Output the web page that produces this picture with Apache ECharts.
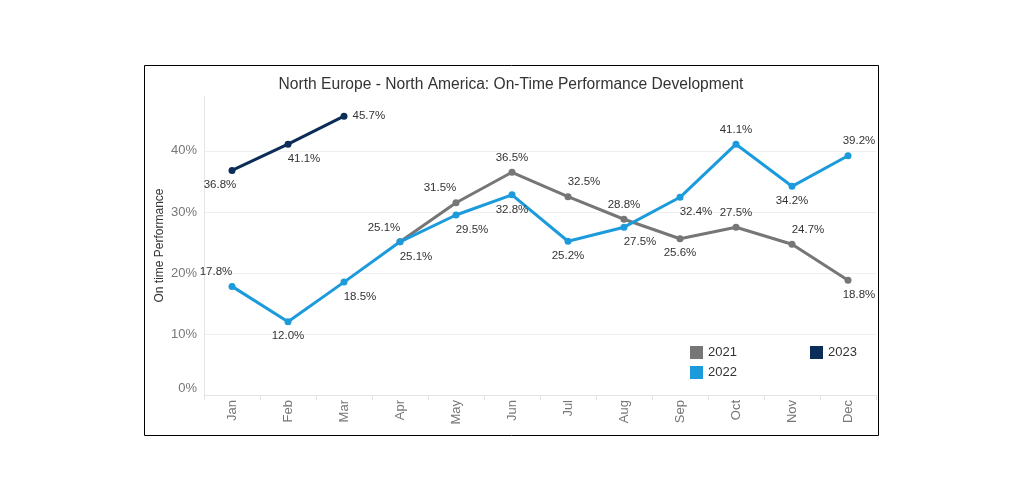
<!DOCTYPE html>
<html>
<head>
<meta charset="utf-8">
<script src="https://cdn.jsdelivr.net/npm/echarts@6/dist/echarts.min.js"></script>
<style>
  html, body { margin: 0; padding: 0; background: #fff; }
  #chart { width: 1017px; height: 500px; }
</style>
</head>
<body>
<div id="chart"></div>
<script>
// ---- data ----
const months = ['Jan', 'Feb', 'Mar', 'Apr', 'May', 'Jun', 'Jul', 'Aug', 'Sep', 'Oct', 'Nov', 'Dec'];
const years = ['2021', '2022', '2023'];
const otp2021 = [null, null, null, 25.1, 31.5, 36.5, 32.5, 28.8, 25.6, 27.5, 24.7, 18.8];
const otp2022 = [17.8, 12.0, 18.5, 25.1, 29.5, 32.8, 25.2, 27.5, 32.4, 41.1, 34.2, 39.2];
const otp2023 = [36.8, 41.1, 45.7, null, null, null, null, null, null, null, null, null];
const yTicks = [0, 10, 20, 30, 40];

// ---- label placement (styling) ----
const place2021 = [null, null, null, 'tl', 'tl', 't', 'tr', 't', 'b', 't', 'tr', 'bR'];
const place2022 = ['tl', 'b', 'br', 'br', 'br', 'b', 'b', 'br', 'br', 't', 'b', 'tR'];
const place2023 = ['bl', 'br', 'r'];
const placeMap = {
  t: { position: 'top', offset: [0, 0] },
  b: { position: 'bottom', offset: [0, 0] },
  tl: { position: 'top', offset: [-16, 0] },
  tr: { position: 'top', offset: [16, 0] },
  tR: { position: 'top', offset: [11, 0] },
  bl: { position: 'bottom', offset: [-12, 0] },
  br: { position: 'bottom', offset: [16, 0] },
  bR: { position: 'bottom', offset: [11, 0] },
  r: { position: 'right', offset: [0, 0] }
};
const colors = ['#767676', '#1b9bdc', '#0b2d57'];

function buildData(values, places) {
  return values.map((v, i) => {
    if (v === null) return null;
    const p = placeMap[places[i]] || placeMap.t;
    return { value: v, label: { position: p.position, offset: p.offset } };
  });
}

const labelStyle = {
  show: true,
  formatter: p => p.value.toFixed(1) + '%',
  color: '#333',
  fontSize: 11.5,
  fontFamily: 'Liberation Sans, Arial, sans-serif',
  distance: 5
};

function makeSeries(name, values, places, color) {
  return {
    name: name,
    type: 'line',
    data: buildData(values, places),
    symbol: 'circle',
    symbolSize: 7,
    showSymbol: true,
    connectNulls: false,
    lineStyle: { width: 3, color: color },
    itemStyle: { color: color },
    label: labelStyle,
    emphasis: { disabled: true }
  };
}

const chart = echarts.init(document.getElementById('chart'));
const legendText = { color: '#333', fontSize: 13, fontFamily: 'Liberation Sans, Arial, sans-serif' };
const legendBase = { orient: 'vertical', icon: 'rect', itemWidth: 13, itemHeight: 13, padding: 0, itemGap: 7, textStyle: legendText, selectedMode: false };

chart.setOption({
  animation: false,
  backgroundColor: '#fff',
  title: {
    text: 'North Europe - North America: On-Time Performance Development',
    left: 506, top: 72, textAlign: 'center',
    textStyle: { color: '#333', fontSize: 15.6, fontWeight: 'normal', fontFamily: 'Liberation Sans, Arial, sans-serif' }
  },
  legend: [
    Object.assign({}, legendBase, { data: [years[0], years[1]], left: 690, top: 346 }),
    Object.assign({}, legendBase, { data: [years[2]], left: 810, top: 346 })
  ],
  grid: { left: 204, right: 141, top: 96, bottom: 105 },
  xAxis: {
    type: 'category',
    data: months,
    boundaryGap: true,
    axisLine: { show: true, lineStyle: { color: '#e3e3e3' } },
    axisTick: { show: true, length: 5, lineStyle: { color: '#e3e3e3' } },
    axisLabel: { rotate: 90, color: '#777', fontSize: 13, margin: 5, fontFamily: 'Liberation Sans, Arial, sans-serif' },
    splitLine: { show: false }
  },
  yAxis: {
    type: 'value',
    min: 0, max: 49, interval: 10,
    name: 'On time Performance',
    nameLocation: 'middle',
    nameGap: 38,
    nameMoveOverlap: false,
    nameTextStyle: { color: '#333', fontSize: 12, fontFamily: 'Liberation Sans, Arial, sans-serif' },
    axisLine: { show: true, lineStyle: { color: '#e6e6e6' } },
    axisTick: { show: false },
    axisLabel: {
      color: '#777', fontSize: 13, margin: 7, showMaxLabel: false,
      verticalAlignMinLabel: 'bottom',
      fontFamily: 'Liberation Sans, Arial, sans-serif',
      formatter: v => yTicks.includes(v) ? v + '%' : ''
    },
    splitLine: { show: true, showMaxLine: false, showMinLine: false, lineStyle: { color: '#efefef' } }
  },
  series: [
    makeSeries(years[0], otp2021, place2021, colors[0]),
    makeSeries(years[1], otp2022, place2022, colors[1]),
    makeSeries(years[2], otp2023, place2023, colors[2])
  ],
  graphic: [{
    type: 'rect',
    shape: { x: 144.5, y: 65.5, width: 734, height: 370 },
    style: { fill: 'none', stroke: '#000', lineWidth: 1 },
    silent: true
  }]
});
</script>
</body>
</html>
